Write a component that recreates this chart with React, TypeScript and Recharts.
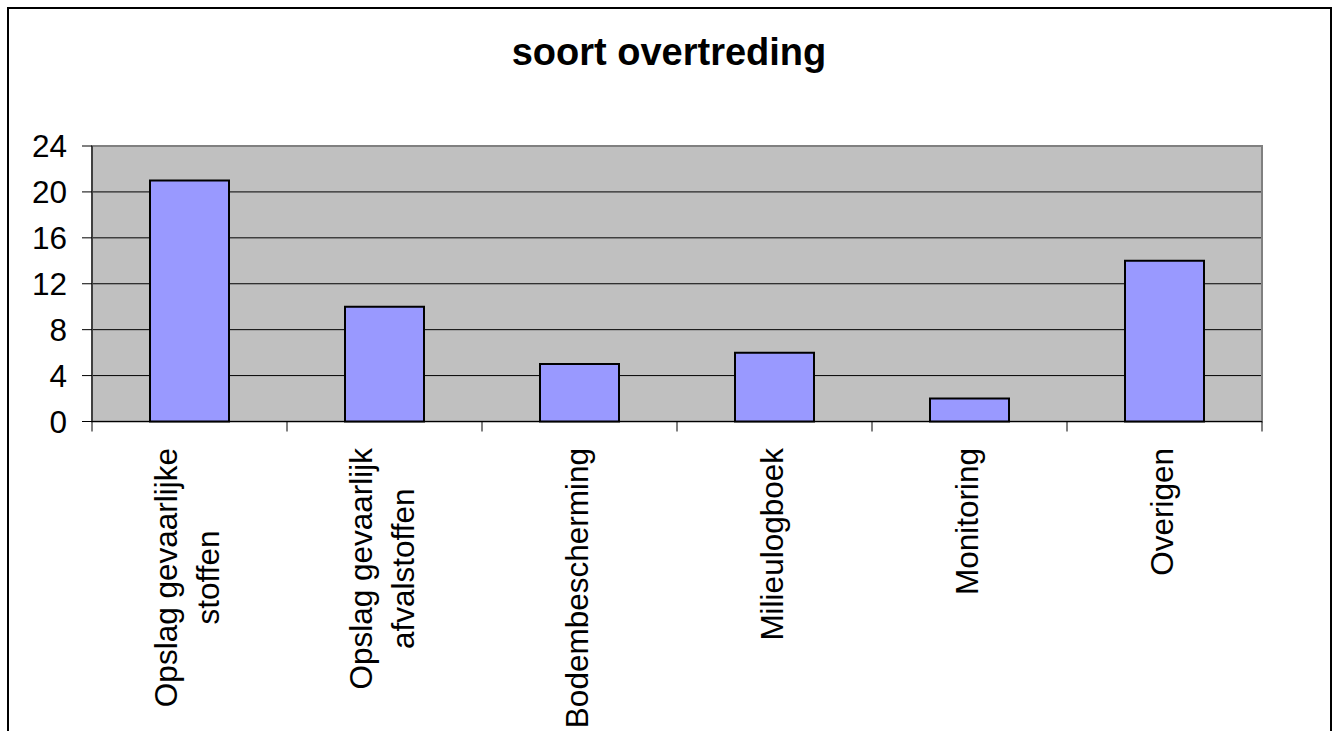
import { BarChart, Bar, XAxis, YAxis, CartesianGrid, ReferenceArea } from 'recharts';

const categories = [
  'Opslag gevaarlijke\nstoffen',
  'Opslag gevaarlijk\nafvalstoffen',
  'Bodembescherming',
  'Milieulogboek',
  'Monitoring',
  'Overigen',
];
const values = [21, 10, 5, 6, 2, 14];
const yTicks = [0, 4, 8, 12, 16, 20, 24];

const data = categories.map((name, i) => ({ name, value: values[i] }));

const FONT = '"Liberation Sans", Arial, sans-serif';
const LABEL_SIZE = 31.5;
const WIDTH = 1334;
const HEIGHT = 731;
const PLOT_LEFT = 92;
const PLOT_RIGHT = 1262;
const PLOT_TOP = 146;
const PLOT_BOTTOM = 421.5;
const LABEL_END = 448;
const BAND = (PLOT_RIGHT - PLOT_LEFT) / categories.length;

let measureCtx: CanvasRenderingContext2D | null = null;
const textWidth = (s: string) => {
  if (!measureCtx) measureCtx = document.createElement('canvas').getContext('2d');
  if (!measureCtx) return s.length * LABEL_SIZE * 0.5;
  measureCtx.font = `${LABEL_SIZE}px ${FONT}`;
  return measureCtx.measureText(s).width;
};

// rotated category label; lines centred on each other, block ends just below the axis
const CategoryTick = (props: any) => {
  const { x, payload, index } = props;
  const lines = String(payload.value).split('\n');
  const half = BAND / 2;
  const longest = Math.max(...lines.map(textWidth));
  return (
    <g>
      <line x1={x - half} x2={x - half} y1={PLOT_BOTTOM} y2={PLOT_BOTTOM + 10} stroke="#000" strokeWidth={1} />
      {index === categories.length - 1 && (
        <line x1={x + half} x2={x + half} y1={PLOT_BOTTOM} y2={PLOT_BOTTOM + 10} stroke="#000" strokeWidth={1} />
      )}
      <text
        transform={`translate(${x},${LABEL_END + longest / 2}) rotate(-90)`}
        textAnchor="middle"
        fontFamily={FONT}
        fontSize={LABEL_SIZE}
        fill="#000"
      >
        {lines.map((line, i) => (
          <tspan key={i} x={0} y={(i - (lines.length - 1) / 2) * 42 + 8}>
            {line}
          </tspan>
        ))}
      </text>
    </g>
  );
};

export default function App() {
  return (
    <div style={{ position: 'absolute', left: 0, top: 0, width: WIDTH, height: HEIGHT, overflow: 'hidden', background: '#fff' }}>
      <div
        style={{
          position: 'absolute',
          left: 7,
          top: 7,
          width: 1321,
          height: 760,
          borderLeft: '2px solid #000',
          borderTop: '2px solid #000',
          borderRight: '2px solid #000',
        }}
      />
      <div
        style={{
          position: 'absolute',
          left: 0,
          top: 33,
          width: 1338,
          textAlign: 'center',
          fontFamily: FONT,
          fontWeight: 'bold',
          fontSize: 38,
          lineHeight: '38px',
          color: '#000',
        }}
      >
        soort overtreding
      </div>
      <div style={{ position: 'absolute', left: 0, top: 0 }}>
        <BarChart
          width={WIDTH}
          height={HEIGHT}
          data={data}
          margin={{ top: PLOT_TOP, right: WIDTH - PLOT_RIGHT, bottom: 0, left: 0 }}
        >
          <CartesianGrid vertical={false} fill="#c0c0c0" stroke="#000" strokeWidth={1} />
          <ReferenceArea y1={0} y2={24} fill="none" stroke="#808080" strokeWidth={2} ifOverflow="visible" />
          <XAxis
            dataKey="name"
            height={HEIGHT - PLOT_BOTTOM}
            interval={0}
            tickLine={false}
            axisLine={{ stroke: '#000', strokeWidth: 1 }}
            tick={<CategoryTick />}
          />
          <YAxis
            width={PLOT_LEFT}
            domain={[0, 24]}
            ticks={yTicks}
            interval={0}
            tickSize={10}
            tickMargin={15}
            axisLine={{ stroke: '#000', strokeWidth: 1 }}
            tickLine={{ stroke: '#000', strokeWidth: 1 }}
            tick={{ fill: '#000', fontSize: LABEL_SIZE, fontFamily: FONT }}
          />
          <Bar dataKey="value" fill="#9999ff" stroke="#000" strokeWidth={2} barSize={79} isAnimationActive={false} />
        </BarChart>
      </div>
    </div>
  );
}
